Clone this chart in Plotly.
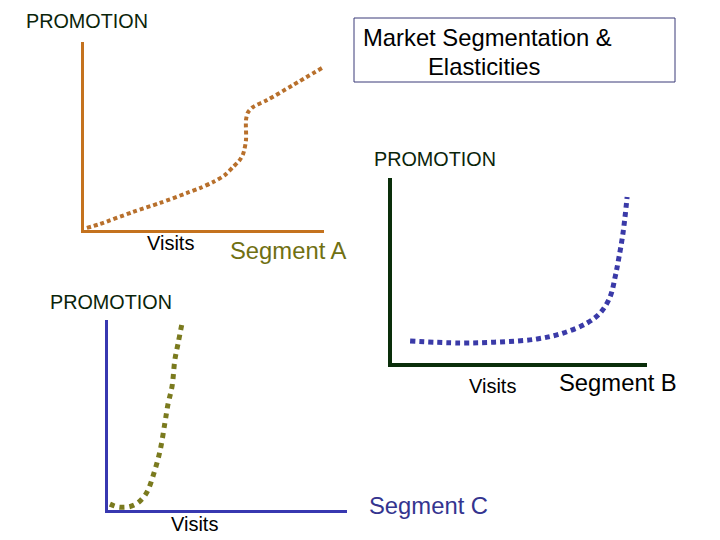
import plotly.graph_objects as go

# ---- data (axis units 0-100) ----
seg_a_visits = [1.2, 6.7, 20.4, 31.7, 42.9, 48.3, 53.8, 58.8, 62.1, 64.6, 66.3, 67.5, 67.5, 68.3, 70.4, 76.3, 87.1, 99.2]
seg_a_promo = [1.1, 3.2, 9.6, 14.4, 19.7, 22.3, 25.5, 29.3, 33.5, 36.7, 40.4, 47.9, 58.5, 62.5, 65.4, 69.1, 77.1, 86.2]

seg_b_visits = [7.1, 26.7, 42.4, 56.9, 67.1, 76.5, 81.6, 85.5, 87.5, 88.6, 90.6, 92.2]
seg_b_promo = [11.9, 10.8, 11.4, 13.0, 16.2, 21.6, 27.0, 35.7, 46.5, 54.1, 70.3, 89.7]

seg_c_visits = [0.8, 4.2, 8.4, 11.7, 14.6, 16.7, 19.2, 21.8, 23.8, 25.1, 26.8, 28.0, 29.3, 31.0]
seg_c_promo = [3.1, 1.6, 1.6, 3.1, 6.3, 10.4, 19.3, 31.3, 45.8, 55.7, 65.1, 79.2, 87.5, 98.5]

title_lines = ["Market Segmentation &", "Elasticities"]
y_label = "PROMOTION"
x_label = "Visits"
segment_names = ["Segment A", "Segment B", "Segment C"]

W, H = 720, 540
def px(x):
    return x / W
def py(y):
    return 1 - y / H

FONT = "Liberation Sans, Arial, sans-serif"

fig = go.Figure()
fig.add_trace(go.Scatter(x=seg_a_visits, y=seg_a_promo, mode="lines", line_shape="spline",
                         line=dict(color="#B8702C", width=4, dash="4px,3px", smoothing=0.8),
                         xaxis="x", yaxis="y", showlegend=False, hoverinfo="skip"))
fig.add_trace(go.Scatter(x=seg_b_visits, y=seg_b_promo, mode="lines", line_shape="spline",
                         line=dict(color="#3A3AA8", width=5, dash="5px,4px"),
                         xaxis="x2", yaxis="y2", showlegend=False, hoverinfo="skip"))
fig.add_trace(go.Scatter(x=seg_c_visits, y=seg_c_promo, mode="lines", line_shape="spline",
                         line=dict(color="#7A7A1E", width=5, dash="5px,5px"),
                         xaxis="x3", yaxis="y3", showlegend=False, hoverinfo="skip"))

def ax(domain, color, width, anchor):
    return dict(domain=domain, range=[0, 100], showline=True, linecolor=color, linewidth=width,
                showgrid=False, zeroline=False, showticklabels=False, ticks="",
                fixedrange=True, anchor=anchor)

fig.update_layout(
    width=W, height=H, margin=dict(l=0, r=0, t=0, b=0),
    paper_bgcolor="white", plot_bgcolor="white",
    xaxis=ax([px(84), px(324)], "#C4721E", 3, "y"),
    yaxis=ax([py(230), py(42)], "#C4721E", 3, "x"),
    xaxis2=ax([px(392), px(647)], "#0A2E0A", 4, "y2"),
    yaxis2=ax([py(363), py(178)], "#0A2E0A", 4, "x2"),
    xaxis3=ax([px(108), px(347)], "#3838B0", 3, "y3"),
    yaxis3=ax([py(510), py(320)], "#3838B0", 3, "x3"),
    font=dict(family=FONT),
)

def label(text, x, y, size, color, xanchor="left"):
    fig.add_annotation(text=text, x=px(x), y=py(y), xref="paper", yref="paper",
                       xanchor=xanchor, yanchor="middle", showarrow=False,
                       font=dict(family=FONT, size=size, color=color))

prom_color = "#0A240A"
label(y_label, 24, 21, 19.8, prom_color)
label(y_label, 372, 159, 19.8, prom_color)
label(y_label, 48, 302, 19.8, prom_color)
label(x_label, 145, 243, 20, "#000000")
label(x_label, 467, 386, 20, "#000000")
label(x_label, 169, 524, 20, "#000000")
label(segment_names[0], 228, 250, 23.8, "#707012")
label(segment_names[1], 557, 382, 23.8, "#000000")
label(segment_names[2], 367, 505, 23.8, "#34348F")

fig.add_shape(type="rect", xref="paper", yref="paper",
              x0=px(354), x1=px(675), y0=py(82), y1=py(18),
              line=dict(color="#3A3A78", width=1), fillcolor="rgba(0,0,0,0)")
label(title_lines[0], 487, 37, 23.8, "#000000", xanchor="center")
label(title_lines[1], 484, 66, 23.8, "#000000", xanchor="center")

fig.write_html("out.html", config={"displayModeBar": False},
               post_script="document.body.style.margin='0';")
